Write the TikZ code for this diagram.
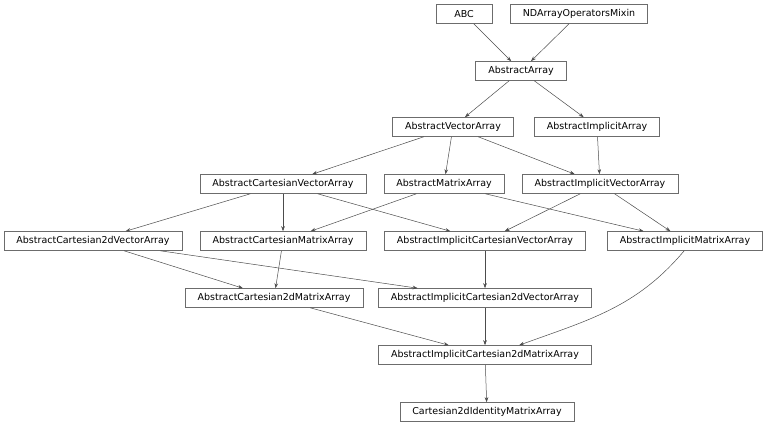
\documentclass[tikz,border=0pt]{standalone}
\usepackage{fontspec}
\setmainfont{DejaVu Sans}
\usetikzlibrary{arrows.meta}

\begin{document}
\begin{tikzpicture}[x=1pt, y=1pt,
    cls/.style={draw=gray!85!black, line width=0.6pt, fill=white, rectangle,
      minimum height=19pt, inner xsep=12.5pt, inner ysep=0pt,
      font=\fontsize{9.5}{10}\selectfont},
    edge/.style={draw=black!70, line width=0.5pt, -{Stealth[length=5pt, width=3.6pt]}}]
      \useasboundingbox (0,0) rectangle (768,424);
      % top row
      \node[cls, minimum width=56pt] (abc) at (464,410) {ABC};
      \node[cls] (mixin) at (579,410) {NDArrayOperatorsMixin};
      \node[cls] (arr)   at (521,353) {AbstractArray};
      \node[cls] (vec)   at (453,297) {AbstractVectorArray};
      \node[cls] (impl)  at (597,297) {AbstractImplicitArray};
      % third row
      \node[cls] (cvec)  at (283,240) {AbstractCartesianVectorArray};
      \node[cls] (mat)   at (444,240) {AbstractMatrixArray};
      \node[cls] (ivec)  at (600,240) {AbstractImplicitVectorArray};
      % fourth row
      \node[cls] (c2vec) at (93,183)  {AbstractCartesian2dVectorArray};
      \node[cls] (cmat)  at (283,183) {AbstractCartesianMatrixArray};
      \node[cls] (icvec) at (485,183) {AbstractImplicitCartesianVectorArray};
      \node[cls] (imat)  at (685,183) {AbstractImplicitMatrixArray};
      % lower rows
      \node[cls] (c2mat)  at (274,126) {AbstractCartesian2dMatrixArray};
      \node[cls] (ic2vec) at (485,126) {AbstractImplicitCartesian2dVectorArray};
      \node[cls] (ic2mat) at (485,69)  {AbstractImplicitCartesian2dMatrixArray};
      \node[cls] (ident)  at (487,12)  {Cartesian2dIdentityMatrixArray};
      % inheritance
      \draw[edge] (abc) -- (arr);
      \draw[edge] (mixin) -- (arr);
      \draw[edge] (arr) -- (vec);
      \draw[edge] (arr) -- (impl);
      \draw[edge] (vec) -- (cvec);
      \draw[edge] (vec) -- (mat);
      \draw[edge] (vec) -- (ivec);
      \draw[edge] (impl) -- (ivec);
      \draw[edge] (cvec) -- (c2vec);
      \draw[edge] (cvec) -- (cmat);
      \draw[edge] (cvec) -- (icvec);
      \draw[edge] (mat) -- (cmat);
      \draw[edge] (mat) -- (imat);
      \draw[edge] (ivec) -- (icvec);
      \draw[edge] (ivec) -- (imat);
      \draw[edge] (c2vec) -- (c2mat);
      \draw[edge] (c2vec) -- (ic2vec);
      \draw[edge] (cmat) -- (c2mat);
      \draw[edge] (icvec) -- (ic2vec);
      \draw[edge] (c2mat) -- (ic2mat);
      \draw[edge] (ic2vec) -- (ic2mat);
      \draw[edge] (imat.265) to[out=-130, in=20] (ic2mat.16.5);
      \draw[edge] (ic2mat) -- (ident);
    \end{tikzpicture}
\end{document}
